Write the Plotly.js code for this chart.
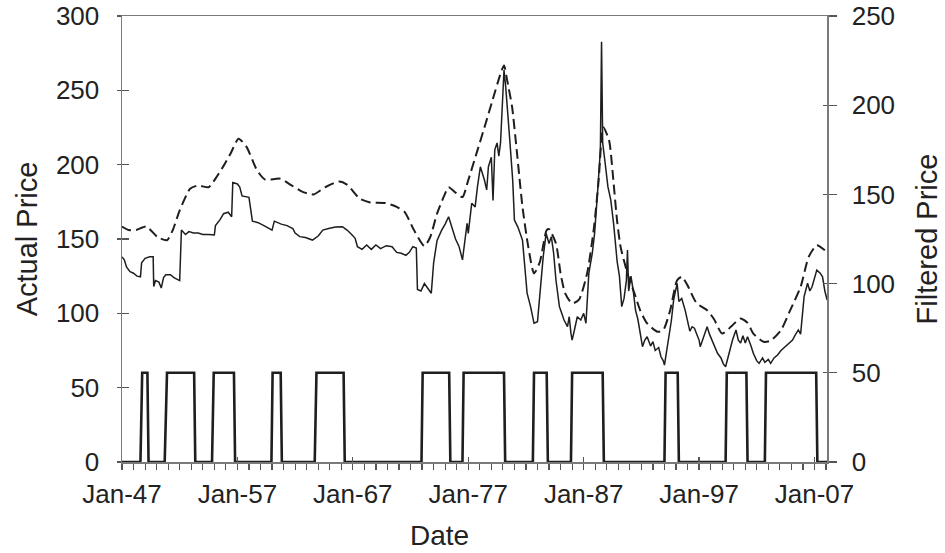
<!DOCTYPE html>
<html>
<head>
<meta charset="utf-8">
<script src="https://cdn.plot.ly/plotly-3.0.1.min.js"></script>
<style>html,body{margin:0;padding:0;background:#fff;}#chart{width:945px;height:553px;}</style>
</head>
<body>
<div id="chart"></div>
<script>
// Actual price (left axis), decimal years
var actualYears = [
 1947.0,1947.2,1947.4,1947.7,1948.0,1948.3,1948.6,1948.7,1949.0,1949.4,
 1949.7,1949.75,1949.9,1950.2,1950.4,1950.6,1950.8,1951.2,1951.5,1951.8,
 1952.0,1952.15,1952.5,1952.8,1953.2,1953.6,1954.0,1954.5,1955.0,1955.1,
 1955.5,1955.8,1956.2,1956.5,1956.6,1957.0,1957.2,1957.4,1958.0,1958.3,
 1958.8,1959.3,1960.0,1960.2,1960.8,1961.3,1961.8,1962.0,1962.4,1962.9,
 1963.5,1964.0,1964.4,1964.9,1965.5,1966.1,1966.5,1966.9,1967.2,1967.4,
 1967.8,1968.2,1968.6,1969.0,1969.4,1969.9,1970.4,1970.8,1971.2,1971.6,
 1971.9,1972.2,1972.5,1972.6,1972.9,1973.2,1973.5,1973.8,1974.0,1974.3,
 1974.7,1975.0,1975.3,1975.6,1975.9,1976.2,1976.5,1976.9,1977.0,1977.3,
 1977.6,1977.8,1978.05,1978.4,1978.6,1978.75,1979.0,1979.15,1979.3,1979.5,
 1979.65,1979.8,1980.0,1980.1,1980.25,1980.4,1980.6,1980.85,1981.0,1981.3,
 1981.7,1981.9,1982.1,1982.4,1982.7,1983.0,1983.2,1983.5,1983.75,1984.0,
 1984.2,1984.4,1984.6,1984.9,1985.1,1985.3,1985.6,1985.75,1985.9,1986.0,
 1986.2,1986.45,1986.75,1987.0,1987.2,1987.45,1987.75,1987.95,1988.2,1988.45,
 1988.55,1988.65,1988.9,1989.1,1989.35,1989.6,1989.9,1990.1,1990.3,1990.5,
 1990.7,1990.8,1990.9,1991.1,1991.3,1991.5,1991.7,1991.9,1992.1,1992.3,
 1992.5,1992.8,1993.0,1993.2,1993.5,1993.7,1993.9,1994.0,1994.2,1994.4,
 1994.6,1994.8,1995.1,1995.25,1995.5,1995.8,1996.0,1996.2,1996.4,1996.6,
 1996.8,1997.0,1997.1,1997.4,1997.7,1997.9,1998.2,1998.6,1998.9,1999.1,
 1999.3,1999.5,1999.7,1999.9,2000.2,2000.4,2000.6,2000.8,2001.0,2001.2,
 2001.5,2001.7,2002.0,2002.2,2002.5,2002.7,2003.0,2003.2,2003.5,2003.8,
 2004.1,2004.5,2004.8,2005.1,2005.3,2005.6,2005.8,2006.0,2006.1,2006.4,
 2006.6,2006.8,2007.0,2007.2,2007.5,2007.7,2007.9,2008.1];
var actualPrice = [
 138,136,131,128,127,125,124.6,134,137,138,
 138,118,122,121,117,124,126,126,124,123,
 122,156,153,155,154,154,153,153,152.7,159,
 163,167,168,165,188,187,185,179,178,162,
 161,159,156,162,160,159,157,154,151.6,151,
 149.3,152,156,157,158,158.3,156,153,150.5,144.8,
 143,146,143,146,143.5,145.5,144.8,141,140.4,139,
 141,144.8,144,116,115,120,117,113.5,134,149,
 156,160,165,158,150,145,136,160.5,153.8,174,
 171.6,185,198.6,189.7,183,198.6,205,176,210,214.6,
 205.7,214.6,250,263.7,252,238.5,216.6,189.7,162.8,158,
 149.3,131.5,113.6,104.5,93.3,94.4,113.6,138.3,153.8,147,
 151.6,140.4,122.4,104.5,100,95.5,91,97.7,86.5,82,
 88.8,97.7,95.5,100,93.3,127,140.4,153.8,180.7,209.9,
 282.7,214.6,198.6,185.2,176.3,160,135,125,104.5,110,
 122,142.6,115,125,115,102,96,88,77.6,82,
 84.3,78,81,75,77,70.8,68,65.2,75,86.6,
 95,109,120.2,108,110,102,95,88,91,90,
 86,82,77.6,85,91,86,80,73.1,70,66,
 64.1,70,75,82,88.8,82,80,85,80,84.3,
 78,73.1,68,66.4,70,67,69,66.4,70,72,
 75,77.6,80,82,85,88.8,86,100,111.2,120.2,
 115,118,124,129.1,127,124.6,115,109];

// Filtered price (right axis)
var filteredYears = [1947.0,1947.6,1948.2,1949.1,1950.1,1950.9,1951.4,1952.0,1952.9,1953.6,1954.5,1955.1,1955.8,1956.4,1957.1,1957.8,1958.7,1959.4,1960.7,1961.7,1962.7,1963.6,1964.6,1965.8,1966.5,1967.6,1968.5,1969.8,1970.8,1971.5,1972.3,1973.2,1973.7,1974.3,1974.9,1975.3,1975.9,1976.5,1977.0,1977.8,1978.5,1979.1,1979.8,1980.1,1980.4,1980.8,1981.2,1981.7,1982.2,1982.7,1983.2,1983.8,1984.0,1984.6,1985.0,1985.4,1986.0,1986.6,1987.3,1987.9,1988.3,1988.7,1989.2,1989.6,1989.9,1990.2,1990.8,1991.4,1991.9,1992.5,1993.4,1993.9,1994.5,1995.1,1995.5,1996.0,1996.8,1997.7,1998.3,1999.0,1999.9,2000.6,2001.2,2001.7,2002.6,2003.2,2004.1,2004.9,2005.8,2006.5,2007.2,2007.9];
var filteredPrice = [132,130,130,132,126,124.3,130,141,153.2,155,154,158.8,166,172.8,181.2,176.5,163.5,158.3,158.8,155,151.3,150,154,157.3,155.5,147.6,145.5,145.2,143,140.1,130,121,126,139.3,149,154,151,148.5,158,174.7,189.6,202.7,217.6,222.3,213,199,174.7,143,120.6,105.7,112,130,130.5,122.5,105.7,94.5,88.9,91,105.7,131.7,157.9,187.7,180.3,156,135,120.6,105.7,94.5,85,77.7,73,74,85.1,101.9,103.8,99,88.9,85.1,80,72,76.7,80.5,78,72,67.4,68,73.9,85.1,98.2,115,121.5,118.7];

// Regime indicator (right axis, 0 / 50)
var regimeYears = [1947.0,1948.6,1948.75,1949.2,1949.3,1950.7,1950.9,1953.25,1953.35,1954.8,1954.95,1956.7,1956.8,1959.95,1960.05,1960.75,1960.85,1963.7,1963.85,1966.2,1966.3,1972.95,1973.05,1975.35,1975.45,1976.5,1976.6,1980.1,1980.2,1982.6,1982.7,1983.8,1983.9,1985.9,1986.0,1988.65,1988.75,1994.0,1994.1,1995.15,1995.25,1999.3,1999.4,2001.1,2001.2,2002.7,2002.8,2007.15,2007.25,2008.1];
var regimeValue = [0,0,50,50,0,0,50,50,0,0,50,50,0,0,50,50,0,0,50,50,0,0,50,50,0,0,50,50,0,0,50,50,0,0,50,50,0,0,50,50,0,0,50,50,0,0,50,50,0,0];

var leftTicks = [0,50,100,150,200,250,300];
var rightTicks = [0,50,100,150,200,250];
var xTitle = 'Date', yLeftTitle = 'Actual Price', yRightTitle = 'Filtered Price';

function toDate(y){
  var yr = Math.floor(y);
  var start = Date.UTC(yr,0,1), end = Date.UTC(yr+1,0,1);
  var d = new Date(start + (y - yr)*(end - start));
  return d.toISOString().slice(0,10);
}

var ink = '#1e1e1e';
var axisCol = '#7a7a7a';
var txt = '#222';
var xr = ['1947-01-01','2008-02-01'];

var traces = [
  {x: actualYears.map(toDate), y: actualPrice, xaxis:'x', yaxis:'y', mode:'lines',
   line:{color:ink, width:1.5}, hoverinfo:'skip'},
  {x: filteredYears.map(toDate), y: filteredPrice, xaxis:'x', yaxis:'y2', mode:'lines',
   line:{color:ink, width:2, dash:'10px,5px', shape:'spline', smoothing:0.6}, hoverinfo:'skip'},
  {x: regimeYears.map(toDate), y: regimeValue, xaxis:'x2', yaxis:'y2', mode:'lines',
   line:{color:ink, width:2.6}, hoverinfo:'skip'},
  {x: [], y: [], xaxis:'x', yaxis:'y3', mode:'lines', hoverinfo:'skip'},
  {x: [], y: [], xaxis:'x', yaxis:'y4', mode:'lines', hoverinfo:'skip'}
];

var layout = {
  width:945, height:553,
  margin:{l:122, r:118, t:16, b:91},
  paper_bgcolor:'#fff', plot_bgcolor:'#fff',
  showlegend:false,
  font:{family:'Liberation Sans, Arial, sans-serif', color:txt},
  xaxis:{type:'date', range:xr, showgrid:false, zeroline:false,
    showline:true, mirror:true, linecolor:axisCol, linewidth:1.5,
    ticks:'outside', ticklen:6, tickwidth:1.2, tickcolor:'#555',
    dtick:'M12', tick0:'1947-01-01', showticklabels:false},
  xaxis2:{type:'date', range:xr, overlaying:'x', anchor:'y', side:'bottom',
    showgrid:false, zeroline:false, showline:false,
    ticks:'inside', ticklen:5, tickwidth:1.2, tickcolor:'#555',
    dtick:'M120', tick0:'1947-01-01', tickformat:'%b-%y',
    tickfont:{size:26, color:txt}, ticklabelstandoff:14},
  yaxis:{range:[0,300], tickvals:leftTicks, showgrid:false, zeroline:false,
    showline:true, linecolor:axisCol, linewidth:1.5,
    ticks:'outside', ticklen:4, tickwidth:1.2, tickcolor:'#555',
    tickfont:{size:26, color:txt}, ticklabelstandoff:12,
    title:{text:yLeftTitle, font:{size:29, color:txt}, standoff:10}},
  yaxis2:{range:[0,250], tickvals:rightTicks, overlaying:'y', side:'right', anchor:'x',
    showgrid:false, zeroline:false, showline:true, linecolor:axisCol, linewidth:1.5,
    ticks:'outside', ticklen:8, tickwidth:1.2, tickcolor:'#555',
    tickfont:{size:26, color:txt}, ticklabelstandoff:10,
    title:{text:yRightTitle, font:{size:29, color:txt}, standoff:22}},
  yaxis3:{range:[0,300], tickvals:leftTicks, overlaying:'y', side:'left', anchor:'x',
    showgrid:false, zeroline:false, showline:false, showticklabels:false,
    ticks:'inside', ticklen:7, tickwidth:1.2, tickcolor:'#555'},
  yaxis4:{range:[0,250], tickvals:rightTicks, overlaying:'y', side:'right', anchor:'x',
    showgrid:false, zeroline:false, showline:false, showticklabels:false,
    ticks:'inside', ticklen:4, tickwidth:1.2, tickcolor:'#555'},
  annotations:[{text:xTitle, xref:'paper', yref:'paper', x:(439-122)/705, y:-(552-462)/446,
    xanchor:'center', yanchor:'bottom', showarrow:false, borderpad:0,
    font:{size:28, color:txt}}]
};

Plotly.newPlot('chart', traces, layout, {staticPlot:true, displayModeBar:false});
</script>
</body>
</html>
